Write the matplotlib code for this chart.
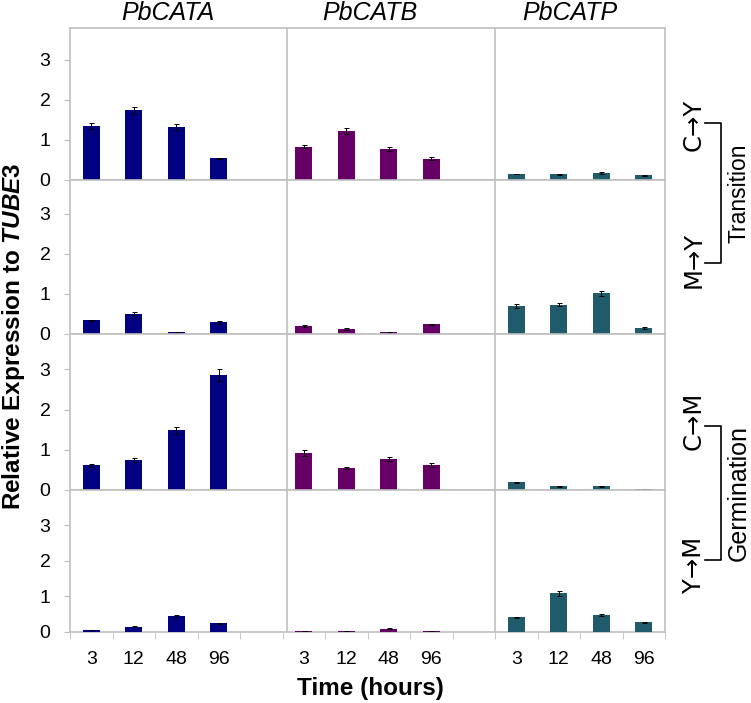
import numpy as np
import matplotlib
matplotlib.use("Agg")
import matplotlib.pyplot as plt
from matplotlib.lines import Line2D

plt.rcParams['font.family'] = ['Liberation Sans', 'DejaVu Sans']
plt.rcParams['mathtext.fontset'] = 'custom'
plt.rcParams['mathtext.it'] = 'Liberation Sans:italic:bold'
plt.rcParams['mathtext.rm'] = 'Liberation Sans:bold'

# ---- data ----
times = ["3", "12", "48", "96"]
genes = ["PbCATA", "PbCATB", "PbCATP"]
conditions = ["C→Y", "M→Y", "C→M", "Y→M"]

cy_vals = [[1.35, 1.74, 1.33, 0.54], [0.83, 1.22, 0.78, 0.53], [0.15, 0.14, 0.17, 0.12]]
cy_err = [[0.07, 0.09, 0.07, 0.02], [0.04, 0.07, 0.05, 0.04], [0.01, 0.01, 0.02, 0.01]]
my_vals = [[0.34, 0.51, 0.04, 0.29], [0.20, 0.13, 0.04, 0.24], [0.70, 0.73, 1.01, 0.15]]
my_err = [[0.02, 0.03, 0.01, 0.03], [0.02, 0.02, 0.01, 0.02], [0.04, 0.04, 0.06, 0.02]]
cm_vals = [[0.61, 0.75, 1.48, 2.86], [0.92, 0.55, 0.77, 0.62], [0.19, 0.09, 0.09, 0.02]]
cm_err = [[0.04, 0.05, 0.075, 0.14], [0.065, 0.03, 0.05, 0.05], [0.02, 0.01, 0.01, 0.005]]
ym_vals = [[0.055, 0.15, 0.45, 0.24], [0.02, 0.02, 0.09, 0.03], [0.41, 1.09, 0.48, 0.27]]
ym_err = [[0.01, 0.02, 0.03, 0.02], [0.005, 0.005, 0.01, 0.005], [0.02, 0.075, 0.02, 0.02]]

all_vals = [cy_vals, my_vals, cm_vals, ym_vals]
all_err = [cy_err, my_err, cm_err, ym_err]

# ---- style / layout ----
colors = ["#000080", "#660066", "#205B6B"]
grey = "#C0C0C0"
W, H = 751, 703
row_px = [(28, 180), (180, 334), (334, 490), (490, 632)]
row_top = [3.8, 3.84, 3.88, 3.99]
left_px, right_px = 70, 665
slot = len(times) + 1          # 4 bars + one empty slot per gene
n_slots = slot * len(genes) - 1
dividers = [4.6, 9.5]

def fx(px):
    return px / W

def fy(py):
    return 1 - py / H

fig = plt.figure(figsize=(W / 100, H / 100), dpi=100)

for r in range(4):
    top, bot = row_px[r]
    ax = fig.add_axes([fx(left_px), fy(bot), fx(right_px) - fx(left_px), (bot - top) / H])
    for g in range(len(genes)):
        xs = np.arange(len(times)) + g * slot
        ax.bar(xs, all_vals[r][g], width=0.41, color=colors[g], zorder=3)
        ax.errorbar(xs, all_vals[r][g], yerr=all_err[r][g], fmt='none',
                    ecolor='black', elinewidth=0.7, capsize=1.8, capthick=0.7, zorder=4)
    for d in dividers:
        ax.axvline(d, color=grey, lw=1.2, zorder=1)
    ax.set_xlim(-0.5, n_slots - 0.5)
    ax.set_ylim(0, row_top[r])
    for s in ax.spines.values():
        s.set_color(grey)
        s.set_linewidth(1.2)
    ax.set_yticks([0, 1, 2, 3])
    ax.tick_params(axis='y', direction='out', length=4, color=grey, labelsize=14, pad=10)
    if r == 3:
        pos = [g * slot + t for g in range(len(genes)) for t in range(len(times))]
        ax.set_xticks(pos)
        ax.set_xticklabels(times * len(genes))
        ax.set_xticks(np.arange(-0.5, n_slots, 1.0), minor=True)
        ax.tick_params(axis='x', which='major', length=0, labelsize=14, pad=14)
        ax.tick_params(axis='x', which='minor', direction='out', length=5, color=grey)
    else:
        ax.set_xticks([])

# column titles
col_centers = [168, 370, 570]
for g, name in enumerate(genes):
    fig.text(fx(col_centers[g]), fy(13), name, ha='center', va='center',
             fontsize=18, style='italic')

# axis titles
fig.text(fx(370), fy(688), "Time (hours)", ha='center', va='center',
         fontsize=17.5, fontweight='bold')
fig.text(fx(14), fy(336), r"Relative Expression to $\mathit{TUBE3}$", ha='center',
         va='center', rotation=90, fontsize=17.5, fontweight='bold')

# condition labels and brackets
cond_y = [125, 260, 421, 565]
for c, yy in zip(conditions, cond_y):
    fig.text(fx(694), fy(yy), c, ha='center', va='center', rotation=90, fontsize=17.5,
             family=['DejaVu Sans'])

for (y0, y1), lab, fs in [((123, 263), "Transition", 16.5), ((426, 560), "Germination", 18)]:
    xs = [fx(705), fx(720.7), fx(720.7), fx(705)]
    ys = [fy(y0), fy(y0), fy(y1), fy(y1)]
    fig.add_artist(Line2D(xs, ys, color='black', lw=1.2))
    fig.text(fx(739), fy((y0 + y1) / 2), lab, ha='center', va='center',
             rotation=90, fontsize=fs)

fig.savefig("out.png", dpi=100)
